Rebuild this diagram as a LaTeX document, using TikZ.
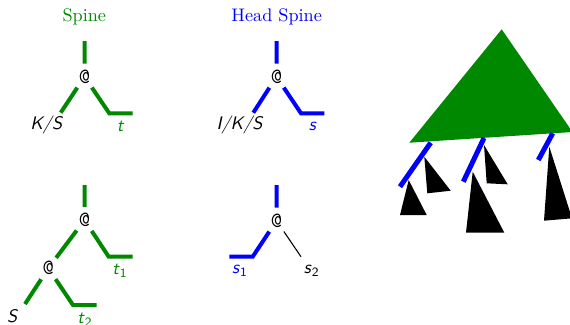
\documentclass[tikz,border=0pt]{standalone}
\usepackage{tikz}
\usetikzlibrary{positioning}

\definecolor{spinegreen}{RGB}{0,136,0}
\newcommand{\vsf}[1]{\textsf{\itshape #1}}

\begin{document}
\begin{tikzpicture}[x=0.55pt, y=-0.55pt,
    app/.style={circle, inner sep=0pt, minimum size=14pt, font=\ttfamily\large},
    spine/.style={spinegreen, line width=2.2pt},
    hspine/.style={blue, line width=2.2pt},
    arg/.style={black, line width=0.6pt}]
        \clip (0,0) rectangle (570,324);

        % Titles
        \node[spinegreen] (title1) at (84.3,17.3) {Spine};
        \node[blue] (title2) at (276.7,17.3) {Head Spine};

        % Spine
        \node[app] (a1) at (84.5,76.7) {@};
        \coordinate (a1top) at (84.7,41);
        \coordinate (a1l) at (60.7,112.7);
        \coordinate (a1b) at (109.3,113.3);
        \coordinate (a1r) at (132.7,113.3);
        \node (ks) at (46.7,125) {\vsf{K/S}};
        \node[spinegreen] (t) at (120.7,126) {\vsf{t}};
        \draw[spine] (a1top) -- (a1);
        \draw[spine] (a1) -- (a1l);
        \draw[spine] (a1) -- (a1b) -- (a1r);

        % Head spine
        \node[app] (a2) at (276.5,76.7) {@};
        \coordinate (a2top) at (276.7,41);
        \coordinate (a2l) at (253.3,112.7);
        \coordinate (a2b) at (301,113.3);
        \coordinate (a2r) at (324.3,113.3);
        \node (iks) at (240,125) {\vsf{I/K/S}};
        \node[blue] (s) at (312.7,126) {\vsf{s}};
        \draw[hspine] (a2top) -- (a2);
        \draw[hspine] (a2) -- (a2l);
        \draw[hspine] (a2) -- (a2b) -- (a2r);

        % Spine with two arguments
        \node[app] (a3) at (84.5,220) {@};
        \node[app] (a4) at (48.3,268.3) {@};
        \coordinate (a3top) at (84.7,185);
        \coordinate (a3b) at (108.7,256.7);
        \coordinate (a3r) at (132.7,256.7);
        \coordinate (a4l) at (25,304);
        \coordinate (a4b) at (73,305);
        \coordinate (a4r) at (96.7,305);
        \node[spinegreen] (t1) at (120,271) {\vsf{t}\textsubscript{\sffamily 1}};
        \node (S) at (12.7,316) {\vsf{S}};
        \node[spinegreen] (t2) at (85,320) {\vsf{t}\textsubscript{\sffamily 2}};
        \draw[spine] (a3top) -- (a3);
        \draw[spine] (a3) -- (a4);
        \draw[spine] (a3) -- (a3b) -- (a3r);
        \draw[spine] (a4) -- (a4l);
        \draw[spine] (a4) -- (a4b) -- (a4r);

        % Head spine of an application
        \node[app] (a5) at (276.5,220.7) {@};
        \coordinate (a5top) at (276.7,185);
        \coordinate (a5b) at (252.7,256.7);
        \coordinate (a5l) at (229.3,256.7);
        \coordinate (a5r) at (301,256.7);
        \node[blue] (s1) at (240,271) {\vsf{s}\textsubscript{\sffamily 1}};
        \node (s2) at (311.7,271) {\vsf{s}\textsubscript{\sffamily 2}};
        \draw[hspine] (a5top) -- (a5);
        \draw[hspine] (a5) -- (a5b) -- (a5l);
        \draw[arg] (a5) -- (a5r);

        % Tree with head spines
        \fill[spinegreen] (501.7,29.3) -- (572.5,132) -- (409.3,142.7) -- cycle;
        \draw[blue, line width=2.75pt] (430.7,142.7) -- (400,186.7);
        \draw[blue, line width=2.75pt] (484,138) -- (463.3,181.7);
        \draw[blue, line width=2.75pt] (552.7,133.3) -- (538.3,160);
        \fill[black] (408.7,180) -- (426.7,215) -- (400,215) -- cycle;
        \fill[black] (424.3,156.7) -- (450.7,190.7) -- (427.3,193.3) -- cycle;
        \fill[black] (472.7,171.7) -- (504.3,232.7) -- (466,232.7) -- cycle;
        \fill[black] (484,145) -- (507.7,184.3) -- (486.7,183.3) -- cycle;
        \fill[black] (549.3,146.7) -- (572,218.3) -- (544,220.7) -- cycle;
    \end{tikzpicture}
\end{document}
